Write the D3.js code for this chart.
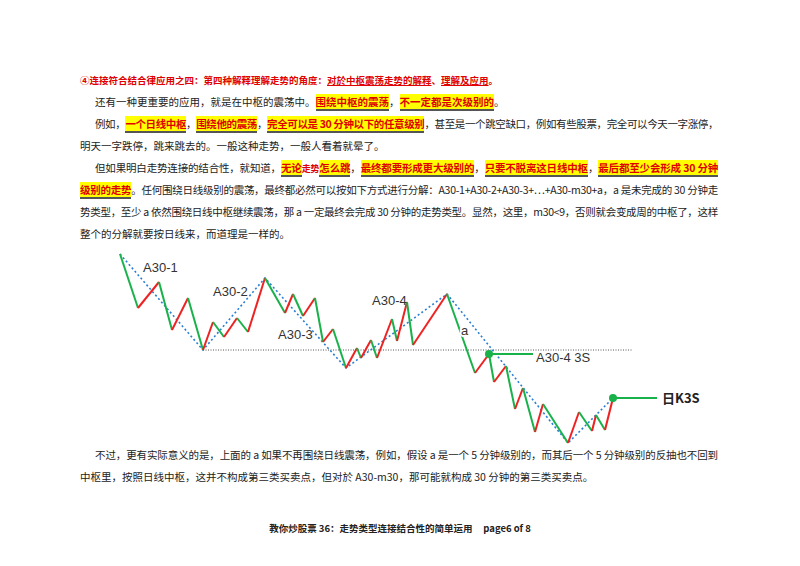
<!DOCTYPE html>
<html><head><meta charset="utf-8">
<script src="https://cdn.jsdelivr.net/npm/d3@7"></script>
<style>
body{margin:0;background:#fff;width:800px;height:566px;position:relative;overflow:hidden;font-family:"Noto Sans CJK SC",sans-serif;}
.ln{position:absolute;font-size:10.5px;line-height:14px;color:#222;white-space:nowrap;}
.h{background:#ffff00;color:#e00000;font-weight:bold;border-bottom:2px solid #555;}
.hd{color:#e00000;font-weight:bold;font-size:9.5px;}
.u{text-decoration:underline;}
svg{position:absolute;left:0;top:0;}
</style></head><body>
<div class="ln hd" style="left:80px;top:73px">④连接符合结合律应用之四：第四种解释理解走势的角度：<span class="u">对於中枢震荡走势的解释</span>、<span class="u">理解及应用</span>。</div>
<div class="ln" style="left:95px;top:95px">还有一种更重要的应用，就是在中枢的震荡中。<span class="h">围绕中枢的震荡</span>，<span class="h">不一定都是次级别的</span>。</div>
<div class="ln j" data-w="623" style="left:95px;top:117px">例如，<span class="h">一个日线中枢</span>，<span class="h">围绕他的震荡</span>，<span class="h">完全可以是 30 分钟以下的任意级别</span>，甚至是一个跳空缺口，例如有些股票，完全可以今天一字涨停，</div>
<div class="ln" style="left:80px;top:139px">明天一字跌停，跳来跳去的。一般这种走势，一般人看着就晕了。</div>
<div class="ln j" data-w="623" style="left:95px;top:161px">但如果明白走势连接的结合性，就知道，<span class="h">无论</span><span style="color:#e00000;font-weight:bold;font-size:9px">走势</span><span class="h">怎么跳</span>，<span class="h">最终都要形成更大级别的</span>，<span class="h">只要不脱离这日线中枢</span>，<span class="h">最后都至少会形成 30 分钟</span></div>
<div class="ln j" data-w="638" style="left:80px;top:183px"><span class="h">级别的走势</span>。任何围绕日线级别的震荡，最终都必然可以按如下方式进行分解：A30-1+A30-2+A30-3+…+A30-m30+a，a 是未完成的 30 分钟走</div>
<div class="ln j" data-w="638" style="left:80px;top:205px">势类型，至少 a 依然围绕日线中枢继续震荡，那 a 一定最终会完成 30 分钟的走势类型。显然，这里，m30&lt;9，否则就会变成周的中枢了，这样</div>
<div class="ln" style="left:80px;top:227px">整个的分解就要按日线来，而道理是一样的。</div>
<div class="ln j" data-w="623" style="left:95px;top:448px">不过，更有实际意义的是，上面的 a 如果不再围绕日线震荡，例如，假设 a 是一个 5 分钟级别的，而其后一个 5 分钟级别的反抽也不回到</div>
<div class="ln" style="left:80px;top:470px">中枢里，按照日线中枢，这并不构成第三类买卖点，但对於 A30-m30，那可能就构成 30 分钟的第三类买卖点。</div>
<div class="ln" style="left:0;width:800px;text-align:center;top:521px;font-size:9.5px;font-weight:bold">教你炒股票 36：走势类型连接结合性的简单运用&nbsp;&nbsp;&nbsp;&nbsp;&nbsp;page6 of 8</div>
<svg width="800" height="566"></svg>
<script>
// stretch justified lines with letter spacing
d3.selectAll(".j").each(function() {
  const el = this, w = +el.dataset.w;
  const n = el.textContent.length;
  const cur = el.getBoundingClientRect().width;
  el.style.letterSpacing = ((w - cur) / n) + "px";
});

// time index and price of each swing point
const t = [0,18,39,52,68,83,93,104,117,128,145,165,173,183,195,203,213,226,237,241,251,257,272,277,287,293,327,355,369,374,386,395,403,415,423,448,459,472,476,485,493];
const p = [196,142,168,120,152,100,128,113,132,118,172,137,156,134,152,108,121,82,102,92,110,92,131,109,148,105,156,77,96,68,84,41,62,18,46,7,38,19,35,20,52];
const trendIdx = [0,5,10,17,26,35,40];
const levelPrice = 100;
const labels = [["A30-1",23,178],["A30-2",93,154],["A30-3",158,111],["A30-4",252,145],["a",341,115],["A30-4 3S",416,88]];

const svg = d3.select("svg");
const x = d3.scaleLinear().domain([0,540]).range([120,660]);
const y = d3.scaleLinear().domain([0,200]).range([450,250]);
const pts = t.map((d,i) => ({t:d, p:p[i]}));

// zhongshu lower edge
svg.append("line").attr("x1",x(83)).attr("x2",x(513)).attr("y1",y(levelPrice)).attr("y2",y(levelPrice))
  .attr("stroke","#555").attr("stroke-width",1).attr("stroke-dasharray","1,1.5");

svg.append("path").datum(trendIdx.map(i => pts[i]))
  .attr("d", d3.line().x(d => x(d.t)).y(d => y(d.p)))
  .attr("fill","none").attr("stroke","#2a7fd4").attr("stroke-width",1.6).attr("stroke-dasharray","2,2.5");

svg.append("g").selectAll("line").data(pts.slice(1))
  .join("line")
  .attr("x1",(d,i) => x(pts[i].t)).attr("y1",(d,i) => y(pts[i].p))
  .attr("x2",d => x(d.t)).attr("y2",d => y(d.p))
  .attr("stroke",(d,i) => d.p > pts[i].p ? "#ee2222" : "#19b24a")
  .attr("stroke-width",2);

// third buy/sell points
[[28,413],[40,537]].forEach(([i,end]) => {
  svg.append("line").attr("x1",x(pts[i].t)).attr("x2",x(end)).attr("y1",y(pts[i].p)).attr("y2",y(pts[i].p))
    .attr("stroke","#19b24a").attr("stroke-width",2);
  svg.append("circle").attr("cx",x(pts[i].t)).attr("cy",y(pts[i].p)).attr("r",4).attr("fill","#19b24a");
});

labels.forEach(([s,tt,pp]) => {
  const g = svg.append("text").attr("x",x(tt)).attr("y",y(pp)).attr("font-family","Arial, Liberation Sans, sans-serif")
    .attr("font-size",13).attr("fill","#333").text(s);
  if (s === "a") g.attr("stroke","#fff").attr("stroke-width",4).attr("paint-order","stroke");
});
svg.append("text").attr("x",x(542)).attr("y",y(47)).attr("font-family","Noto Sans CJK SC, sans-serif")
  .attr("font-size",13).attr("font-weight","bold").attr("fill","#222").text("日K3S");
</script>
</body></html>
